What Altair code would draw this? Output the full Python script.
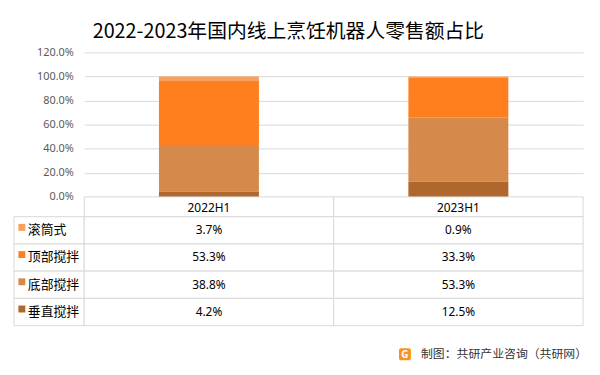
import altair as alt
import pandas as pd

categories = ["2022H1", "2023H1"]
series = ["滚筒式", "顶部搅拌", "底部搅拌", "垂直搅拌"]
values_2022 = [3.7, 53.3, 38.8, 4.2]
values_2023 = [0.9, 33.3, 53.3, 12.5]
colors = ["#F9A05F", "#FF7F1F", "#D58A4C", "#B0672E"]
stack_order = [3, 2, 1, 0]  # 垂直搅拌 at the bottom
title_text = "2022-2023年国内线上烹饪机器人零售额占比"
footer_text = "制图：共研产业咨询（共研网）"

rows = []
for cat, vals in zip(categories, [values_2022, values_2023]):
    for s, v, o in zip(series, vals, stack_order):
        rows.append({"cat": cat, "series": s, "value": v, "order": o})
df = pd.DataFrame(rows)

FONT = "Noto Sans"
CJK = "Noto Sans CJK SC"
GRID = "#D9D9D9"
W = 504

x_scale = alt.Scale(domain=categories, paddingInner=0, paddingOuter=0)
color_scale = alt.Scale(domain=series, range=colors)

bars = alt.Chart(df).mark_bar(size=101).encode(
    x=alt.X("cat:N", scale=x_scale, axis=None),
    y=alt.Y("value:Q", stack="zero",
            scale=alt.Scale(domain=[0, 120], nice=False),
            axis=alt.Axis(values=[0, 20, 40, 60, 80, 100, 120],
                          labelExpr="format(datum.value, '.1f') + '%'",
                          title=None, domain=False, ticks=False,
                          labelPadding=11, labelFont=FONT, labelFontSize=11,
                          labelColor="#595959", gridColor=GRID)),
    color=alt.Color("series:N", scale=color_scale, legend=None),
    order=alt.Order("order:Q", sort="ascending"),
).properties(width=W, height=146)

# header row
hdr_df = pd.DataFrame({"cat": categories})
hdr_cells = alt.Chart(hdr_df).mark_rect(fill="white", stroke=GRID, strokeWidth=1).encode(
    x=alt.X("cat:N", scale=x_scale, axis=None),
    y=alt.value(0), y2=alt.value(20),
)
hdr_text = alt.Chart(hdr_df).mark_text(font=FONT, fontSize=12, color="#000000").encode(
    x=alt.X("cat:N", scale=x_scale, axis=None),
    y=alt.value(11),
    text="cat:N",
)
header = alt.layer(hdr_cells, hdr_text).properties(width=W, height=20)

# table body
y_scale = alt.Scale(domain=series, paddingInner=0, paddingOuter=0)
label_df = pd.DataFrame({"series": series})

cells = alt.Chart(df).mark_rect(fill="white", stroke=GRID, strokeWidth=1).encode(
    x=alt.X("cat:N", scale=x_scale, axis=None),
    y=alt.Y("series:N", scale=y_scale, axis=None),
)
cell_text = alt.Chart(df).mark_text(font=FONT, fontSize=12, color="#000000").transform_calculate(
    label="format(datum.value, '.1f') + '%'"
).encode(
    x=alt.X("cat:N", scale=x_scale, axis=None),
    y=alt.Y("series:N", scale=y_scale, axis=None),
    text="label:N",
)
label_cells = alt.Chart(label_df).mark_rect(fill="white", stroke=GRID, strokeWidth=1).encode(
    x=alt.value(-71), x2=alt.value(0),
    y=alt.Y("series:N", scale=y_scale, axis=None),
)
squares = alt.Chart(label_df).mark_square(size=49, opacity=1, yOffset=-3).encode(
    x=alt.value(-63),
    y=alt.Y("series:N", scale=y_scale, axis=None),
    color=alt.Color("series:N", scale=color_scale, legend=None),
)
labels = alt.Chart(label_df).mark_text(font=CJK, fontSize=13, align="left",
                                       color="#000000").encode(
    x=alt.value(-57),
    y=alt.Y("series:N", scale=y_scale, axis=None),
    text="series:N",
)
footer_df = pd.DataFrame({"t": [footer_text]})
footer = alt.Chart(footer_df).mark_text(font=CJK, fontSize=12, align="right",
                                        baseline="middle", color="#333333").encode(
    x=alt.value(508), y=alt.value(139), text="t:N",
)
logo = alt.Chart(footer_df).mark_rect(color="#F7931E", cornerRadius=2).encode(
    x=alt.value(318), x2=alt.value(330), y=alt.value(133), y2=alt.value(145),
)
logo_g = alt.Chart(footer_df).mark_text(text="G", font=FONT, fontSize=10,
                                        fontWeight="bold", color="white",
                                        baseline="middle").encode(
    x=alt.value(324), y=alt.value(139.5),
)
body = alt.layer(label_cells, cells, squares, labels, cell_text,
                 footer, logo, logo_g).properties(width=W, height=110)

chart = alt.vconcat(bars, header, body, spacing=0, bounds="flush").properties(
    title=alt.Title(title_text, font=CJK, fontSize=20, fontWeight="normal",
                    color="#000000", anchor="middle", offset=5, dx=-12),
    padding={"left": 5, "top": 12, "right": 5, "bottom": 5},
).configure_view(stroke=None)

chart.save("out.html", embed_options={"renderer": "svg", "actions": False})
